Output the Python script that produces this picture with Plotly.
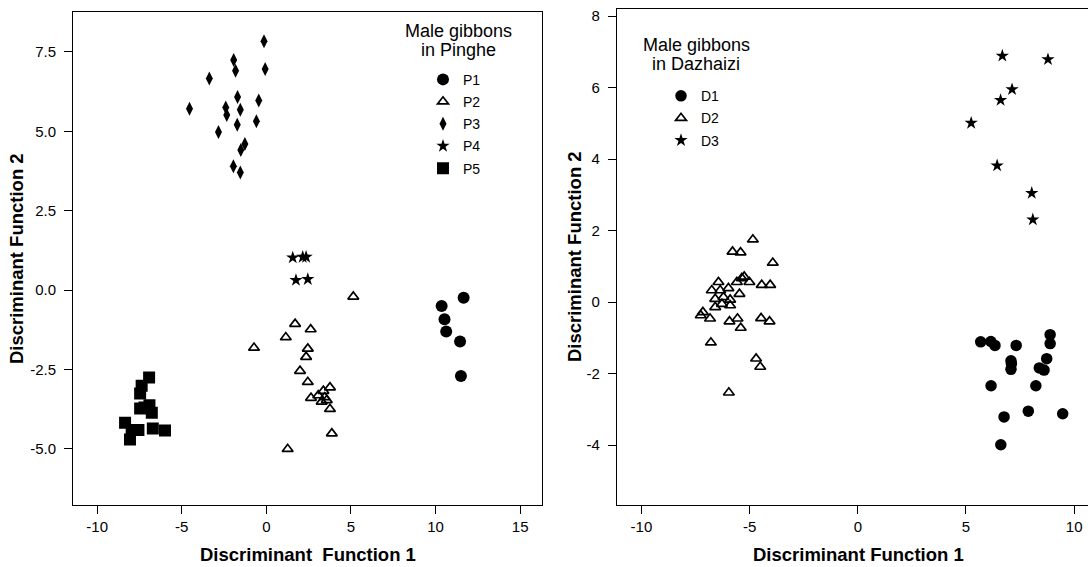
import plotly.graph_objects as go

# ---------------- Left panel: Male gibbons in Pinghe ----------------
p1_x = [10.36, 11.66, 10.53, 10.63, 11.45, 11.50]
p1_y = [-0.50, -0.24, -0.92, -1.31, -1.62, -2.71]

p2_x = [5.14, 1.70, 2.62, 1.15, -0.73, 2.45, 2.35, 1.99, 2.45, 3.76, 3.37, 3.07, 2.64, 3.57, 3.27, 3.45, 3.76, 3.87, 1.26]
p2_y = [-0.21, -1.07, -1.24, -1.49, -1.82, -1.85, -2.11, -2.55, -2.90, -3.07, -3.18, -3.32, -3.40, -3.47, -3.52, -3.38, -3.75, -4.52, -5.01]

p3_x = [-0.14, -0.07, -1.93, -1.82, -3.37, -1.70, -0.45, -4.54, -2.40, -2.34, -1.54, -1.72, -0.59, -2.83, -1.27, -1.51, -1.95, -1.54]
p3_y = [7.84, 6.96, 7.25, 6.91, 6.66, 6.08, 5.97, 5.71, 5.75, 5.51, 5.68, 5.21, 5.32, 4.98, 4.60, 4.41, 3.90, 3.70]

p4_x = [1.56, 2.15, 2.35, 1.75, 2.45]
p4_y = [1.02, 1.04, 1.04, 0.31, 0.34]

p5_x = [-6.93, -7.37, -7.46, -7.46, -6.91, -6.77, -8.35, -7.96, -7.56, -8.06, -6.71, -5.99, -7.20]
p5_y = [-2.76, -3.02, -3.26, -3.73, -3.63, -3.87, -4.18, -4.41, -4.41, -4.71, -4.36, -4.43, -3.70]

# ---------------- Right panel: Male gibbons in Dazhaizi ----------------
d1_x = [5.68, 6.15, 6.34, 7.32, 8.89, 8.89, 8.73, 7.08, 7.08, 7.10, 8.39, 8.61, 6.16, 8.23, 6.76, 7.88, 9.47, 6.61]
d1_y = [-1.11, -1.10, -1.21, -1.21, -0.91, -1.16, -1.58, -1.64, -1.88, -1.72, -1.84, -1.90, -2.34, -2.34, -3.21, -3.05, -3.12, -3.99]

d2_x = [-4.85, -5.79, -5.42, -3.93, -5.25, -5.36, -5.01, -5.59, -4.44, -4.05, -6.44, -5.98, -6.75, -6.36,
        -5.47, -6.59, -6.21, -5.90, -6.59, -5.90, -6.28, -7.16, -7.26, -6.83, -5.93, -5.56, -5.41, -4.47,
        -4.08, -6.79, -4.70, -4.51, -5.96]
d2_y = [1.75, 1.41, 1.39, 1.10, 0.71, 0.67, 0.56, 0.56, 0.48, 0.48, 0.56, 0.39, 0.33, 0.33,
        0.23, 0.09, 0.14, 0.07, -0.14, -0.09, -0.05, -0.28, -0.37, -0.46, -0.54, -0.46, -0.72, -0.45,
        -0.54, -1.13, -1.58, -1.81, -2.53]

d3_x = [6.68, 8.79, 7.13, 6.60, 5.24, 6.44, 8.04, 8.09]
d3_y = [6.89, 6.79, 5.95, 5.65, 5.01, 3.82, 3.05, 2.31]

# ---------------- Tick labels ----------------
left_x_ticks = [-10, -5, 0, 5, 10, 15]
left_x_text = ["-10", "-5", "0", "5", "10", "15"]
left_y_ticks = [-5, -2.5, 0, 2.5, 5, 7.5]
left_y_text = ["-5.0", "-2.5", "0.0", "2.5", "5.0", "7.5"]
right_x_ticks = [-10, -5, 0, 5, 10]
right_x_text = ["-10", "-5", "0", "5", "10"]
right_y_ticks = [-4, -2, 0, 2, 4, 6, 8]
right_y_text = ["-4", "-2", "0", "2", "4", "6", "8"]

FONT = "Liberation Sans, Arial, sans-serif"
BLACK = "#000000"

fig = go.Figure()

def add(x, y, name, symbol, size, xa, ya, legend, open_=False):
    if open_:
        marker = dict(symbol=symbol, size=size, color=BLACK, line=dict(color=BLACK, width=1.7))
    else:
        marker = dict(symbol=symbol, size=size, color=BLACK, line=dict(width=0))
    fig.add_trace(go.Scatter(x=x, y=y, mode="markers", name=name, marker=marker,
                             xaxis=xa, yaxis=ya, legend=legend, legendgroup=name,
                             showlegend=True))

add(p1_x, p1_y, "P1", "circle", 12, "x", "y", "legend")
add(p2_x, p2_y, "P2", "triangle-up-open", 9.5, "x", "y", "legend", open_=True)
add(p3_x, p3_y, "P3", "diamond-tall", 10, "x", "y", "legend")
add(p4_x, p4_y, "P4", "star", 10, "x", "y", "legend")
add(p5_x, p5_y, "P5", "square", 12, "x", "y", "legend")

add(d1_x, d1_y, "D1", "circle", 11.5, "x2", "y2", "legend2")
add(d2_x, d2_y, "D2", "triangle-up-open", 9.5, "x2", "y2", "legend2", open_=True)
add(d3_x, d3_y, "D3", "star", 10, "x2", "y2", "legend2")

W, H = 1088, 567
def px(x):
    return x / W
def py(y):
    return 1 - y / H

axis_common = dict(showgrid=False, zeroline=False, showline=True, linecolor=BLACK, linewidth=1.3,
                   ticks="outside", ticklen=8, tickcolor=BLACK, tickwidth=1.3,
                   tickmode="array",
                   tickfont=dict(family=FONT, size=15, color=BLACK))

legend_common = dict(xanchor="left", yanchor="top", bgcolor="rgba(0,0,0,0)", borderwidth=0,
                     font=dict(family=FONT, size=14, color=BLACK), itemwidth=30, tracegroupgap=1)

title_font = dict(family=FONT, size=18, color=BLACK)
axis_title_font = dict(family=FONT, size=18.5, color=BLACK)

fig.update_layout(
    width=W, height=H,
    margin=dict(l=0, r=0, t=0, b=0),
    paper_bgcolor="white", plot_bgcolor="white",
    font=dict(family=FONT, color=BLACK),
    xaxis=dict(domain=[px(73.3), px(542.3)], range=[-11.41, 16.31],
               tickvals=left_x_ticks, ticktext=left_x_text,
               mirror=True, anchor="y", **axis_common),
    yaxis=dict(domain=[py(505), py(10)], range=[-6.78, 8.76],
               tickvals=left_y_ticks, ticktext=left_y_text, ticklabelstandoff=5,
               mirror=True, anchor="x", **axis_common),
    xaxis2=dict(domain=[px(617), 1.0], range=[-11.13, 10.64],
                tickvals=right_x_ticks, ticktext=right_x_text,
                mirror=True, anchor="y2", **axis_common),
    yaxis2=dict(domain=[py(505), py(7)], range=[-5.68, 8.20],
                tickvals=right_y_ticks, ticktext=right_y_text, ticklabelstandoff=5,
                mirror=False, anchor="x2", **axis_common),
    legend=dict(x=px(423), y=py(62), **legend_common),
    legend2=dict(x=px(661), y=py(78.5), **legend_common),
    annotations=[
        dict(text="Male gibbons", x=px(458.5), y=py(28.9), xref="paper", yref="paper",
             xanchor="center", yanchor="middle", showarrow=False, font=title_font),
        dict(text="in Pinghe", x=px(458.5), y=py(48.1), xref="paper", yref="paper",
             xanchor="center", yanchor="middle", showarrow=False, font=title_font),
        dict(text="Male gibbons", x=px(696), y=py(43), xref="paper", yref="paper",
             xanchor="center", yanchor="middle", showarrow=False, font=title_font),
        dict(text="in Dazhaizi", x=px(696), y=py(61.9), xref="paper", yref="paper",
             xanchor="center", yanchor="middle", showarrow=False, font=title_font),
        dict(text="<b>Discriminant\u00a0 Function 1</b>", x=px(308), y=0, xref="paper", yref="paper",
             xanchor="center", yanchor="bottom", showarrow=False, font=axis_title_font),
        dict(text="<b>Discriminant Function 2</b>", x=px(16), y=py(258), xref="paper", yref="paper",
             xanchor="center", yanchor="middle", showarrow=False, textangle=-90,
             font=axis_title_font),
        dict(text="<b>Discriminant Function 1</b>", x=px(858), y=0, xref="paper", yref="paper",
             xanchor="center", yanchor="bottom", showarrow=False, font=axis_title_font),
        dict(text="<b>Discriminant Function 2</b>", x=px(574), y=py(256), xref="paper", yref="paper",
             xanchor="center", yanchor="middle", showarrow=False, textangle=-90,
             font=axis_title_font),
    ],
)

# The page's default 8px body margin would shift the 1088x567 figure; remove it.
fig.write_html("out.html", config={"displayModeBar": False},
               post_script="document.body.style.margin='0px';")
